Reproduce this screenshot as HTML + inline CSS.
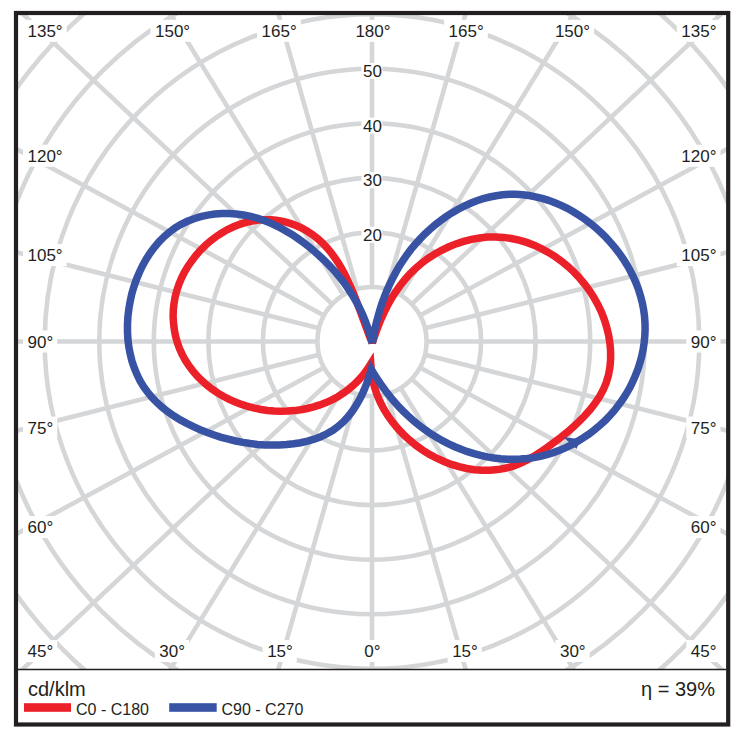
<!DOCTYPE html>
<html><head><meta charset="utf-8"><style>html,body{margin:0;padding:0;background:#fff;width:750px;height:741px;overflow:hidden;position:relative}</style></head>
<body><svg width="750" height="741" viewBox="0 0 750 741" style="position:absolute;left:0;top:0"><defs><clipPath id="pa"><rect x="18" y="15" width="708.5" height="654.5"/></clipPath></defs><g clip-path="url(#pa)" stroke="#d5d6d8" stroke-width="4.6" fill="none"><circle cx="372.0" cy="341.5" r="54.55"/><circle cx="372.0" cy="341.5" r="109.10"/><circle cx="372.0" cy="341.5" r="163.65"/><circle cx="372.0" cy="341.5" r="218.20"/><circle cx="372.0" cy="341.5" r="272.75"/><circle cx="372.0" cy="341.5" r="327.30"/><circle cx="372.0" cy="341.5" r="381.85"/><circle cx="372.0" cy="341.5" r="436.40"/><circle cx="372.0" cy="341.5" r="490.95"/><line x1="372.00" y1="396.05" x2="372.00" y2="1041.50"/><line x1="386.98" y1="393.95" x2="564.25" y2="1014.58"/><line x1="400.59" y1="387.96" x2="738.90" y2="937.64"/><line x1="411.78" y1="378.82" x2="882.53" y2="820.42"/><line x1="419.97" y1="367.48" x2="987.52" y2="674.87"/><line x1="424.90" y1="354.80" x2="1050.88" y2="512.14"/><line x1="426.55" y1="341.50" x2="1072.00" y2="341.50"/><line x1="424.90" y1="328.20" x2="1050.88" y2="170.86"/><line x1="419.97" y1="315.52" x2="987.52" y2="8.13"/><line x1="411.78" y1="304.18" x2="882.53" y2="-137.42"/><line x1="400.59" y1="295.04" x2="738.90" y2="-254.64"/><line x1="386.98" y1="289.05" x2="564.25" y2="-331.58"/><line x1="372.00" y1="286.95" x2="372.00" y2="-358.50"/><line x1="357.02" y1="289.05" x2="179.75" y2="-331.58"/><line x1="343.41" y1="295.04" x2="5.10" y2="-254.64"/><line x1="332.22" y1="304.18" x2="-138.53" y2="-137.42"/><line x1="324.03" y1="315.52" x2="-243.52" y2="8.13"/><line x1="319.10" y1="328.20" x2="-306.88" y2="170.86"/><line x1="317.45" y1="341.50" x2="-328.00" y2="341.50"/><line x1="319.10" y1="354.80" x2="-306.88" y2="512.14"/><line x1="324.03" y1="367.48" x2="-243.52" y2="674.87"/><line x1="332.22" y1="378.82" x2="-138.53" y2="820.42"/><line x1="343.41" y1="387.96" x2="5.10" y2="937.64"/><line x1="357.02" y1="393.95" x2="179.75" y2="1014.58"/></g><rect x="23.0" y="19.8" width="43.7" height="22.0" fill="#fff"/><text x="27.5" y="36.8" text-anchor="start" font-size="17" font-family="Liberation Sans, sans-serif" fill="#231f20">135&#176;</text><rect x="150.5" y="19.8" width="43.7" height="22.0" fill="#fff"/><text x="172.6" y="36.8" text-anchor="middle" font-size="17" font-family="Liberation Sans, sans-serif" fill="#231f20">150&#176;</text><rect x="257.1" y="19.8" width="43.7" height="22.0" fill="#fff"/><text x="279.2" y="36.8" text-anchor="middle" font-size="17" font-family="Liberation Sans, sans-serif" fill="#231f20">165&#176;</text><rect x="350.9" y="19.8" width="43.7" height="22.0" fill="#fff"/><text x="373.0" y="36.8" text-anchor="middle" font-size="17" font-family="Liberation Sans, sans-serif" fill="#231f20">180&#176;</text><rect x="444.1" y="19.8" width="43.7" height="22.0" fill="#fff"/><text x="466.2" y="36.8" text-anchor="middle" font-size="17" font-family="Liberation Sans, sans-serif" fill="#231f20">165&#176;</text><rect x="550.4" y="19.8" width="43.7" height="22.0" fill="#fff"/><text x="572.5" y="36.8" text-anchor="middle" font-size="17" font-family="Liberation Sans, sans-serif" fill="#231f20">150&#176;</text><rect x="676.8" y="19.8" width="43.7" height="22.0" fill="#fff"/><text x="716.5" y="36.8" text-anchor="end" font-size="17" font-family="Liberation Sans, sans-serif" fill="#231f20">135&#176;</text><rect x="23.0" y="640.0" width="34.2" height="22.0" fill="#fff"/><text x="27.5" y="657.2" text-anchor="start" font-size="17" font-family="Liberation Sans, sans-serif" fill="#231f20">45&#176;</text><rect x="154.8" y="640.0" width="34.2" height="22.0" fill="#fff"/><text x="172.2" y="657.2" text-anchor="middle" font-size="17" font-family="Liberation Sans, sans-serif" fill="#231f20">30&#176;</text><rect x="262.6" y="640.0" width="34.2" height="22.0" fill="#fff"/><text x="280.0" y="657.2" text-anchor="middle" font-size="17" font-family="Liberation Sans, sans-serif" fill="#231f20">15&#176;</text><rect x="359.9" y="640.0" width="24.8" height="22.0" fill="#fff"/><text x="372.5" y="657.2" text-anchor="middle" font-size="17" font-family="Liberation Sans, sans-serif" fill="#231f20">0&#176;</text><rect x="447.6" y="640.0" width="34.2" height="22.0" fill="#fff"/><text x="465.0" y="657.2" text-anchor="middle" font-size="17" font-family="Liberation Sans, sans-serif" fill="#231f20">15&#176;</text><rect x="555.4" y="640.0" width="34.2" height="22.0" fill="#fff"/><text x="572.8" y="657.2" text-anchor="middle" font-size="17" font-family="Liberation Sans, sans-serif" fill="#231f20">30&#176;</text><rect x="686.3" y="640.0" width="34.2" height="22.0" fill="#fff"/><text x="716.5" y="657.2" text-anchor="end" font-size="17" font-family="Liberation Sans, sans-serif" fill="#231f20">45&#176;</text><rect x="23.0" y="144.8" width="43.7" height="22.0" fill="#fff"/><text x="27.5" y="161.8" text-anchor="start" font-size="17" font-family="Liberation Sans, sans-serif" fill="#231f20">120&#176;</text><rect x="676.8" y="144.8" width="43.7" height="22.0" fill="#fff"/><text x="716.5" y="161.8" text-anchor="end" font-size="17" font-family="Liberation Sans, sans-serif" fill="#231f20">120&#176;</text><rect x="23.0" y="244.1" width="43.7" height="22.0" fill="#fff"/><text x="27.5" y="261.1" text-anchor="start" font-size="17" font-family="Liberation Sans, sans-serif" fill="#231f20">105&#176;</text><rect x="676.8" y="244.1" width="43.7" height="22.0" fill="#fff"/><text x="716.5" y="261.1" text-anchor="end" font-size="17" font-family="Liberation Sans, sans-serif" fill="#231f20">105&#176;</text><rect x="23.0" y="330.5" width="34.2" height="22.0" fill="#fff"/><text x="27.5" y="347.5" text-anchor="start" font-size="17" font-family="Liberation Sans, sans-serif" fill="#231f20">90&#176;</text><rect x="686.3" y="330.5" width="34.2" height="22.0" fill="#fff"/><text x="716.5" y="347.5" text-anchor="end" font-size="17" font-family="Liberation Sans, sans-serif" fill="#231f20">90&#176;</text><rect x="23.0" y="416.5" width="34.2" height="22.0" fill="#fff"/><text x="27.5" y="433.5" text-anchor="start" font-size="17" font-family="Liberation Sans, sans-serif" fill="#231f20">75&#176;</text><rect x="686.3" y="416.5" width="34.2" height="22.0" fill="#fff"/><text x="716.5" y="433.5" text-anchor="end" font-size="17" font-family="Liberation Sans, sans-serif" fill="#231f20">75&#176;</text><rect x="23.0" y="516.1" width="34.2" height="22.0" fill="#fff"/><text x="27.5" y="533.1" text-anchor="start" font-size="17" font-family="Liberation Sans, sans-serif" fill="#231f20">60&#176;</text><rect x="686.3" y="516.1" width="34.2" height="22.0" fill="#fff"/><text x="716.5" y="533.1" text-anchor="end" font-size="17" font-family="Liberation Sans, sans-serif" fill="#231f20">60&#176;</text><rect x="361.5" y="226.7" width="20.9" height="16.0" fill="#fff"/><text x="372.5" y="240.7" text-anchor="middle" font-size="17" font-family="Liberation Sans, sans-serif" fill="#231f20">20</text><rect x="361.5" y="172.2" width="20.9" height="16.0" fill="#fff"/><text x="372.5" y="186.2" text-anchor="middle" font-size="17" font-family="Liberation Sans, sans-serif" fill="#231f20">30</text><rect x="361.5" y="117.6" width="20.9" height="16.0" fill="#fff"/><text x="372.5" y="131.6" text-anchor="middle" font-size="17" font-family="Liberation Sans, sans-serif" fill="#231f20">40</text><rect x="361.5" y="63.0" width="20.9" height="16.0" fill="#fff"/><text x="372.5" y="77.0" text-anchor="middle" font-size="17" font-family="Liberation Sans, sans-serif" fill="#231f20">50</text><polyline points="372.3,343.2 374.8,335.4 377.6,327.7 380.6,320.2 383.9,312.9 387.4,305.8 391.2,298.9 395.4,292.3 399.8,286.0 404.6,279.9 409.7,274.1 415.2,268.7 421.1,263.6 427.4,258.8 434.1,254.5 441.1,250.5 448.4,247.0 455.9,243.9 463.7,241.4 471.6,239.4 479.5,238.0 487.5,237.1 495.5,236.9 503.5,237.4 511.3,238.5 519.1,240.2 526.7,242.4 534.1,245.2 541.4,248.6 548.4,252.4 555.2,256.7 561.8,261.4 568.0,266.6 574.0,272.1 579.5,278.0 584.8,284.2 589.6,290.8 594.0,297.6 597.9,304.7 601.4,312.0 604.3,319.6 606.7,327.3 608.6,335.1 609.9,343.1 610.6,351.2 610.6,359.3 609.9,367.3 608.5,375.1 606.2,382.7 603.2,389.9 599.4,396.8 595.0,403.4 590.0,409.8 584.7,415.8 578.9,421.6 573.0,427.2 566.8,432.5 560.4,437.7 553.9,442.6 547.3,447.4 540.6,452.0 533.8,456.3 526.9,460.2 519.8,463.6 512.5,466.3 505.1,468.3 497.6,469.6 489.9,470.3 482.2,470.3 474.4,469.7 466.7,468.5 459.0,466.7 451.4,464.4 444.0,461.5 436.7,458.2 429.5,454.4 422.6,450.1 416.0,445.4 409.7,440.2 403.7,434.7 398.2,428.9 393.0,422.7 388.2,416.2 384.0,409.4 380.3,402.3 377.1,395.0 374.6,387.5 372.6,379.7 371.4,371.8 370.8,363.8 367.0,369.7 362.9,375.2 358.4,380.3 353.7,384.9 348.6,389.2 343.3,393.2 337.8,396.7 332.0,399.8 326.0,402.6 319.9,404.9 313.6,406.9 307.3,408.5 300.8,409.8 294.2,410.6 287.6,411.1 280.9,411.3 274.2,411.0 267.6,410.4 261.0,409.5 254.4,408.1 247.9,406.5 241.6,404.4 235.3,402.1 229.2,399.3 223.3,396.3 217.6,392.9 212.1,389.1 206.8,385.0 201.8,380.6 197.1,375.9 192.8,370.8 188.8,365.6 185.2,360.0 182.1,354.3 179.4,348.3 177.2,342.1 175.5,335.9 174.3,329.5 173.5,323.0 173.1,316.5 173.3,310.0 174.0,303.5 175.1,297.0 176.8,290.6 178.9,284.3 181.5,278.1 184.5,272.1 188.0,266.2 191.9,260.6 196.1,255.2 200.6,250.1 205.5,245.3 210.6,240.8 216.0,236.7 221.7,233.0 227.5,229.6 233.5,226.8 239.7,224.3 245.9,222.4 252.3,221.0 258.7,220.1 265.1,219.7 271.5,219.8 277.8,220.5 284.0,221.7 290.2,223.4 296.1,225.5 301.9,228.2 307.4,231.3 312.7,234.8 317.7,238.7 322.4,243.0 326.8,247.6 331.0,252.5 334.8,257.7 338.5,263.2 341.8,268.9 345.0,274.8 347.9,280.8 350.7,287.0 353.4,293.3 355.9,299.6 358.3,306.0 360.7,312.4 363.0,318.7 365.3,325.0 367.6,331.2 369.9,337.3 372.3,343.2" fill="none" stroke="#ec2028" stroke-width="7.5" stroke-linejoin="miter" stroke-miterlimit="12"/><polyline points="372.3,343.2 373.5,336.4 374.8,329.6 376.3,322.8 378.1,316.1 380.0,309.5 382.1,303.0 384.5,296.6 387.0,290.2 389.8,284.0 392.8,277.9 396.0,271.9 399.4,266.0 403.1,260.3 407.0,254.7 411.1,249.2 415.5,244.0 420.1,238.9 424.9,233.9 430.0,229.2 435.3,224.7 440.7,220.5 446.4,216.4 452.2,212.7 458.2,209.2 464.3,206.1 470.5,203.3 476.8,200.8 483.2,198.7 489.7,197.0 496.2,195.7 502.7,194.8 509.3,194.3 515.9,194.3 522.5,194.7 529.1,195.5 535.6,196.8 542.1,198.4 548.5,200.3 554.9,202.7 561.1,205.3 567.3,208.3 573.3,211.7 579.1,215.3 584.9,219.2 590.4,223.4 595.8,227.8 600.9,232.5 605.9,237.4 610.6,242.6 615.1,247.9 619.4,253.4 623.3,259.1 627.0,265.0 630.4,271.0 633.5,277.2 636.2,283.4 638.6,289.8 640.6,296.3 642.3,302.9 643.6,309.5 644.5,316.1 645.0,322.9 645.1,329.6 644.8,336.3 644.1,343.0 643.1,349.7 641.7,356.3 639.9,362.9 637.8,369.4 635.3,375.7 632.6,382.0 629.5,388.1 626.1,394.0 622.4,399.8 618.4,405.3 614.2,410.7 609.7,415.8 604.9,420.7 599.9,425.3 594.7,429.7 589.2,433.9 583.6,437.7 577.8,441.3 571.9,444.6 565.8,447.6 559.6,450.2 553.3,452.6 546.8,454.6 540.3,456.3 533.8,457.6 527.2,458.5 520.5,459.1 513.8,459.3 507.2,459.2 500.5,458.8 493.8,458.0 487.2,456.9 480.6,455.4 474.0,453.7 467.5,451.7 461.1,449.3 454.8,446.7 448.6,443.8 442.4,440.7 436.5,437.3 430.6,433.6 424.9,429.7 419.4,425.6 414.0,421.2 408.8,416.6 403.8,411.8 399.0,406.9 394.4,401.8 390.1,396.6 385.9,391.2 381.9,385.8 378.2,380.3 374.6,374.8 371.3,369.2 369.1,376.6 366.6,383.8 363.7,390.9 360.5,397.8 356.8,404.3 352.8,410.5 348.4,416.3 343.6,421.6 338.4,426.2 332.9,430.3 326.9,433.8 320.7,436.7 314.2,439.2 307.5,441.1 300.6,442.7 293.6,443.8 286.5,444.6 279.3,445.0 272.1,445.1 264.8,444.9 257.5,444.4 250.2,443.5 242.9,442.4 235.7,441.0 228.4,439.2 221.3,437.3 214.2,435.0 207.2,432.5 200.2,429.7 193.4,426.7 186.8,423.4 180.3,419.9 174.1,416.0 168.1,411.9 162.5,407.5 157.2,402.8 152.2,397.7 147.7,392.3 143.6,386.6 140.0,380.6 136.9,374.3 134.2,367.7 131.9,360.9 130.2,353.9 128.8,346.7 127.9,339.3 127.5,331.9 127.5,324.4 127.9,316.8 128.8,309.2 130.1,301.7 131.7,294.2 133.8,286.9 136.3,279.7 139.2,272.7 142.4,265.9 146.0,259.4 150.0,253.2 154.4,247.3 159.0,241.8 164.1,236.7 169.4,232.1 175.1,227.9 181.1,224.3 187.4,221.3 194.0,218.7 200.7,216.7 207.6,215.1 214.7,214.1 221.9,213.6 229.1,213.6 236.3,214.0 243.5,215.0 250.7,216.4 257.8,218.4 264.8,220.8 271.7,223.6 278.4,226.8 285.0,230.4 291.5,234.2 297.7,238.4 303.8,242.8 309.7,247.4 315.4,252.2 320.8,257.1 326.1,262.1 331.1,267.3 335.9,272.6 340.4,278.1 344.8,283.7 348.8,289.6 352.7,295.6 356.3,301.8 359.6,308.1 362.7,314.7 365.5,321.5 368.0,328.5 370.3,335.7 372.3,343.2" fill="none" stroke="#3953a4" stroke-width="7.5" stroke-linejoin="miter" stroke-miterlimit="12"/><polygon points="563.5,437.3 580.5,439.0 576.5,449.0" fill="#3953a4"/><line x1="18" y1="669.5" x2="726.5" y2="669.5" stroke="#231f20" stroke-width="1.6"/><rect x="16" y="13" width="712.2" height="711.5" fill="none" stroke="#231f20" stroke-width="4.2"/><text x="28" y="695.6" font-size="20" font-family="Liberation Sans, sans-serif" fill="#231f20">cd/klm</text><rect x="24" y="703.2" width="47" height="8.6" fill="#ec2028"/><text x="76" y="715" font-size="16" font-family="Liberation Sans, sans-serif" fill="#231f20">C0 - C180</text><rect x="169.2" y="703.2" width="47.5" height="8.6" fill="#3953a4"/><text x="221.5" y="715" font-size="16" font-family="Liberation Sans, sans-serif" fill="#231f20">C90 - C270</text><text x="715" y="695.5" text-anchor="end" font-size="20" font-family="Liberation Sans, sans-serif" fill="#231f20">&#951; = 39%</text></svg></body></html>
